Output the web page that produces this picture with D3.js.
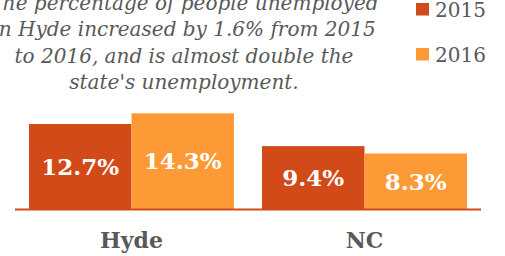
<!DOCTYPE html>
<html>
<head>
<meta charset="utf-8">
<script src="https://cdn.jsdelivr.net/npm/d3@7"></script>
<style>
  body { margin: 0; background: #fff; }
  svg { display: block; font-family: "DejaVu Serif", "Liberation Serif", serif; }
</style>
</head>
<body>
<div id="chart"></div>
<script>
// data
var places = ["Hyde", "NC"];
var years = ["2015", "2016"];
var rate2015 = [12.7, 9.4];
var rate2016 = [14.3, 8.3];
var titleLines = [
  "The percentage of people unemployed",
  "in Hyde increased by 1.6% from 2015",
  "to 2016, and is almost double the",
  "state's unemployment."
];

var colors = ["#d14a18", "#fd9a35"];
var width = 505, height = 256;

var rows = [];
places.forEach(function(p, i) {
  rows.push({place: p, year: "2015", value: rate2015[i]});
  rows.push({place: p, year: "2016", value: rate2016[i]});
});

var svg = d3.select("#chart").append("svg")
  .attr("width", width)
  .attr("height", height);

// title, cropped at top and left like the source
svg.append("g").selectAll("text")
  .data(titleLines)
  .enter().append("text")
  .attr("x", 184)
  .attr("y", function(d, i) { return 10 + i * 26.4; })
  .attr("text-anchor", "middle")
  .style("font-style", "italic")
  .style("font-size", "20px")
  .style("fill", "#595959")
  .text(function(d) { return d; });

// legend
var legend = svg.append("g").selectAll("g")
  .data(years)
  .enter().append("g")
  .attr("transform", function(d, i) { return "translate(416," + (3 + i * 45) + ")"; });
legend.append("rect")
  .attr("width", 13)
  .attr("height", 12.5)
  .style("fill", function(d, i) { return colors[i]; });
legend.append("text")
  .attr("x", 19)
  .attr("y", 14)
  .style("font-size", "20px")
  .style("fill", "#595959")
  .text(function(d) { return d; });

// scales
var x0 = d3.scaleBand()
  .domain(places)
  .range([15, 481])
  .paddingInner(0.12)
  .paddingOuter(0.06);
var x1 = d3.scaleBand()
  .domain(years)
  .range([0, x0.bandwidth()]);
var y = d3.scaleLinear()
  .domain([0, 15])
  .range([209, 209 - 15 * 6.69]);

var bars = svg.append("g").selectAll("g.bar")
  .data(rows)
  .enter().append("g")
  .attr("class", "bar");

bars.append("rect")
  .attr("x", function(d) { return x0(d.place) + x1(d.year); })
  .attr("y", function(d) { return y(d.value); })
  .attr("width", x1.bandwidth())
  .attr("height", function(d) { return y(0) - y(d.value); })
  .style("fill", function(d) { return colors[years.indexOf(d.year)]; });

bars.append("text")
  .attr("x", function(d) { return x0(d.place) + x1(d.year) + x1.bandwidth() / 2; })
  .attr("y", function(d) { return (y(d.value) + y(0)) / 2; })
  .attr("dy", "0.36em")
  .attr("text-anchor", "middle")
  .style("font-size", "23px")
  .style("font-weight", "bold")
  .style("fill", "#fff")
  .text(function(d) { return d.value.toFixed(1) + "%"; });

// baseline
svg.append("line")
  .attr("x1", 15).attr("x2", 481)
  .attr("y1", y(0) + 0.5).attr("y2", y(0) + 0.5)
  .style("stroke", colors[0])
  .style("stroke-width", 2);

// category labels
svg.append("g").selectAll("text")
  .data(places)
  .enter().append("text")
  .attr("x", function(d) { return x0(d) + x0.bandwidth() / 2; })
  .attr("y", 248)
  .attr("text-anchor", "middle")
  .style("font-size", "22px")
  .style("font-weight", "bold")
  .style("fill", "#595959")
  .text(function(d) { return d; });
</script>
</body>
</html>
